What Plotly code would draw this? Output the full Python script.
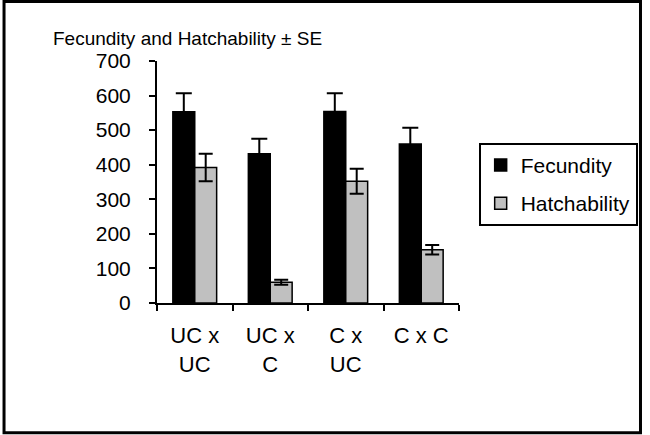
import plotly.graph_objects as go

categories = ["UC x<br>UC", "UC x<br>C", "C x<br>UC", "C x C"]
fecundity = [553, 432, 554, 460]
fecundity_se = [54, 43, 53, 47]
hatchability = [392, 60, 352, 154]
hatchability_se = [40, 7, 36, 14]
y_ticks = [0, 100, 200, 300, 400, 500, 600, 700]

FONT = "Arial, Liberation Sans, sans-serif"

fig = go.Figure()
fig.add_trace(go.Bar(
    x=categories, y=fecundity, name="Fecundity", legendgroup="a",
    marker=dict(color="black", line=dict(color="black", width=1.5)),
    error_y=dict(type="data", array=fecundity_se, visible=True,
                 color="black", thickness=2, width=8),
))
fig.add_trace(go.Bar(
    x=categories, y=hatchability, name="Hatchability", legendgroup="b",
    marker=dict(color="#c0c0c0", line=dict(color="black", width=1.5)),
    error_y=dict(type="data", array=hatchability_se, visible=True,
                 color="black", thickness=2, width=7),
))

L, R, T, B = 157, 186, 61, 131.5
W, H = 650, 435
pw, ph = W - L - R, H - T - B

fig.update_layout(
    width=W, height=H,
    margin=dict(l=L, r=R, t=T, b=B),
    paper_bgcolor="white", plot_bgcolor="white",
    barmode="group", bargap=0.42, bargroupgap=0,
    font=dict(family=FONT, color="black", size=21),
    showlegend=True,
    legend=dict(
        x=(484 - L) / pw, y=(H - B - 143) / ph, xanchor="left", yanchor="top",
        bgcolor="white", bordercolor="black", borderwidth=2,
        font=dict(size=21, family=FONT), tracegroupgap=8,
    ),
    xaxis=dict(
        type="category", tickson="boundaries", ticks="outside", ticklen=6,
        tickwidth=2, tickcolor="black", showline=True, linecolor="black",
        linewidth=2, showgrid=False, tickfont=dict(size=22),
        ticklabelstandoff=12,
    ),
    yaxis=dict(
        range=[0, 700], tickvals=y_ticks, ticks="outside", ticklen=6,
        tickwidth=2, tickcolor="black", showline=True, linecolor="black",
        linewidth=2, showgrid=False, zeroline=False, tickfont=dict(size=21),
        ticklabelstandoff=14,
    ),
    annotations=[dict(
        text="Fecundity and Hatchability ± SE", xref="paper", yref="paper",
        x=(49 - L) / pw, y=(H - B - 38) / ph, xanchor="left", yanchor="middle",
        showarrow=False, font=dict(size=19, family=FONT, color="black"),
    )],
    shapes=[dict(
        type="rect", xref="paper", yref="paper",
        x0=(1.5 - L) / pw, x1=(W - 1.5 - L) / pw,
        y0=(H - B - (H - 1.5)) / ph, y1=(H - B - 1.5) / ph,
        line=dict(color="black", width=3), fillcolor="rgba(0,0,0,0)",
        layer="above",
    )],
)

fig.write_html(
    "out.html",
    config={"displayModeBar": False},
    post_script=(
        "document.body.style.margin='0';"
        "document.body.style.overflow='hidden';"
        "document.documentElement.style.overflow='hidden';"
    ),
)
